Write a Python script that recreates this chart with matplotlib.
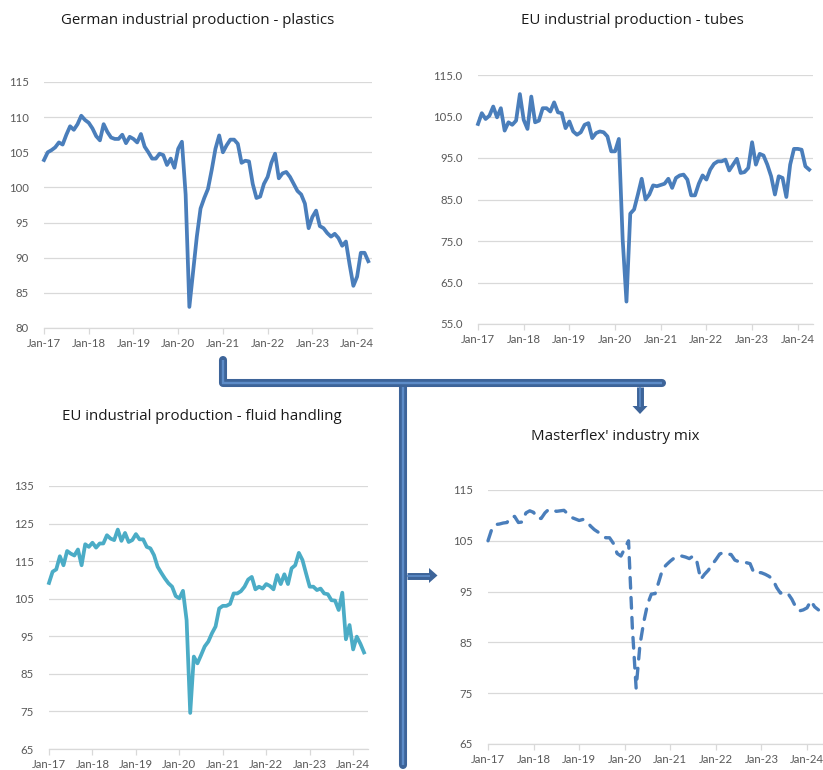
import numpy as np
import matplotlib
matplotlib.use('Agg')
import matplotlib.pyplot as plt
from matplotlib.patches import Polygon

plt.rcParams['font.family'] = ['Lato', 'DejaVu Sans']

W, H = 823, 770

# monthly index values, Jan-17 .. Apr-24
plastics = [103.9, 105.0, 105.3, 105.7, 106.4, 106.1, 107.5, 108.7, 108.2, 109.0, 110.2, 109.6,
            109.2, 108.4, 107.3, 106.7, 109.0, 107.9, 107.1, 106.9, 106.9, 107.5, 106.3, 107.2,
            106.9, 106.4, 107.6, 105.8, 105.0, 104.1, 104.1, 104.8, 104.6, 103.2, 104.1, 102.8,
            105.5, 106.5, 99.0, 83.0, 88.0, 93.0, 97.0, 98.5, 99.8, 102.5, 105.5, 107.4,
            105.0, 106.0, 106.8, 106.8, 106.2, 103.5, 103.8, 103.7, 100.5, 98.5, 98.7, 100.5,
            101.5, 103.5, 104.8, 101.3, 102.0, 102.2, 101.5, 100.5, 99.5, 99.0, 97.7, 94.2,
            95.8, 96.7, 94.5, 94.2, 93.5, 93.0, 93.4, 92.8, 91.7, 92.3, 89.0, 86.0,
            87.3, 90.7, 90.7, 89.5]

tubes = [103.2, 105.8, 104.4, 105.2, 107.4, 104.8, 107.0, 101.6, 103.6, 103.0, 104.0, 110.4,
         104.2, 102.0, 109.8, 103.6, 104.0, 107.0, 107.0, 106.2, 108.4, 106.0, 105.8, 102.2,
         103.8, 101.4, 100.6, 101.2, 103.0, 103.4, 99.8, 101.0, 101.4, 101.2, 100.2, 96.6,
         96.6, 99.6, 75.4, 60.4, 81.6, 82.6, 86.2, 90.0, 85.0, 86.2, 88.4, 88.2,
         88.5, 88.8, 90.0, 87.8, 90.2, 90.8, 91.0, 89.8, 86.0, 86.0, 88.8, 90.8,
         89.8, 92.2, 93.6, 94.2, 94.2, 94.6, 92.0, 93.4, 94.8, 91.4, 91.6, 92.6,
         98.8, 93.4, 96.0, 95.6, 93.4, 90.6, 86.2, 90.6, 90.2, 85.6, 93.4, 97.2,
         97.2, 97.0, 93.0, 92.2]

fluid = [109.2, 112.2, 112.8, 116.3, 113.9, 117.7, 117.0, 116.5, 118.1, 113.9, 119.5, 118.8,
         119.9, 118.6, 119.7, 119.7, 121.9, 121.0, 120.6, 123.4, 120.4, 122.5, 120.1, 120.6,
         122.2, 120.8, 120.8, 118.8, 118.4, 116.6, 113.5, 111.9, 110.4, 109.1, 108.2, 105.7,
         105.1, 107.1, 99.3, 74.6, 89.6, 87.8, 90.0, 92.3, 93.6, 95.8, 97.6, 102.4,
         103.1, 103.1, 103.6, 106.4, 106.4, 107.0, 108.2, 110.1, 110.8, 107.5, 108.2, 107.7,
         108.9, 108.4, 107.5, 111.3, 108.9, 111.5, 108.9, 113.1, 113.9, 117.2, 115.3, 111.7,
         108.2, 108.2, 107.3, 107.7, 106.4, 106.2, 104.6, 104.5, 102.0, 106.6, 94.2, 98.0,
         91.5, 94.9, 93.0, 90.7]

mix = [105.0, 107.3, 108.2, 108.3, 108.5, 108.6, 109.7, 109.8, 108.6, 108.7, 110.5, 110.9,
       110.6, 109.4, 109.4, 110.5, 111.2, 111.1, 110.8, 110.9, 111.0, 110.3, 109.6, 109.3,
       109.0, 109.2, 108.8, 107.9, 107.2, 106.7, 106.2, 105.6, 105.6, 104.5, 102.5, 102.0,
       103.5, 105.0, 88.0, 76.0, 84.5, 89.0, 92.5, 94.5, 94.6, 97.0, 99.5, 100.3,
       101.0, 101.6, 102.0, 102.0, 101.8, 101.5, 102.0, 100.9, 97.4, 98.4, 99.2, 100.3,
       101.3, 102.4, 102.7, 102.4, 102.3, 101.2, 100.9, 100.8, 100.7, 100.5, 98.7, 98.8,
       98.7, 98.4, 98.0, 97.4, 95.8, 94.7, 94.9, 94.6, 93.5, 92.0, 91.2, 91.4,
       91.8, 93.2, 92.0, 91.4]

months = np.arange(len(plastics))
year_ticks = np.arange(0, 85, 12)
year_labels = ['Jan-17', 'Jan-18', 'Jan-19', 'Jan-20', 'Jan-21', 'Jan-22', 'Jan-23', 'Jan-24']

GRID = '#d9d9d9'
TXT = '#595959'


def panel(left, right, top, bottom, xmax, series, yticks, fmt, color, title, tx, ty, dashed=False):
    ax = fig.add_axes([left / W, 1 - bottom / H, (right - left) / W, (bottom - top) / H])
    if dashed:
        ax.plot(months, series, color=color, lw=2.4, linestyle=(0, (3.2, 2.8)),
                dash_capstyle='round', clip_on=False)
    else:
        ax.plot(months, series, color=color, lw=2.7, solid_joinstyle='round', clip_on=False)
    ax.set_xlim(0, xmax)
    ax.set_ylim(yticks[0], yticks[-1])
    ax.set_yticks(yticks)
    ax.set_yticklabels([fmt % v for v in yticks])
    ax.set_xticks(year_ticks)
    ax.set_xticklabels(year_labels)
    ax.grid(axis='y', color=GRID, lw=0.9)
    ax.set_axisbelow(True)
    for s in ['top', 'right', 'left']:
        ax.spines[s].set_visible(False)
    ax.spines['bottom'].set_color(GRID)
    ax.spines['bottom'].set_linewidth(0.9)
    ax.tick_params(axis='x', length=4, color=GRID, width=0.9, labelsize=8.2, labelcolor=TXT, pad=3)
    ax.tick_params(axis='y', length=0, labelsize=8.2, labelcolor=TXT, pad=11)
    fig.text(tx / W, 1 - ty / H, title, ha='center', va='center', fontsize=10.8,
             color='#1a1a1a', family=['Open Sans', 'DejaVu Sans'])
    return ax


fig = plt.figure(figsize=(W / 100, H / 100), dpi=100)

panel(44, 372, 82, 328, 88.0, plastics, [80, 85, 90, 95, 100, 105, 110, 115], '%d',
      '#4a7ebb', 'German industrial production - plastics', 198, 20)
panel(478, 813, 75, 324, 88.0, tubes, [55, 65, 75, 85, 95, 105, 115], '%.1f',
      '#4a7ebb', 'EU industrial production - tubes', 632, 20)
panel(49, 368, 486, 749, 88.1, fluid, [65, 75, 85, 95, 105, 115, 125, 135], '%d',
      '#4bacc6', 'EU industrial production - fluid handling', 202, 417)
panel(488, 823, 490, 744, 88.2, mix, [65, 75, 85, 95, 105, 115], '%d',
      '#4a7ebb', "Masterflex' industry mix", 615, 437, dashed=True)

# connector arrows drawn in pixel space
ov = fig.add_axes([0, 0, 1, 1], zorder=5)
ov.set_xlim(0, W)
ov.set_ylim(H, 0)
ov.axis('off')
ov.patch.set_alpha(0)

DARK = '#3d6499'
LIGHT = '#5d8cc8'


def bar(xs, ys, w=5.8):
    ov.plot(xs, ys, color=DARK, lw=w, solid_capstyle='round', solid_joinstyle='round')
    ov.plot(xs, ys, color=LIGHT, lw=w * 0.3, solid_capstyle='butt', solid_joinstyle='miter')


bar([403, 403], [384, 765])
bar([223, 223, 662], [360, 383, 383])

# down arrow
ov.plot([640, 640], [387, 407], color=DARK, lw=5.0, solid_capstyle='butt')
ov.plot([640, 640], [387, 407], color=LIGHT, lw=1.2, solid_capstyle='butt')
ov.add_patch(Polygon([[632.5, 406], [647.5, 406], [640, 414]], closed=True, color=DARK, lw=0))
# right arrow
ov.plot([407, 430], [575.5, 575.5], color=DARK, lw=5.0, solid_capstyle='butt')
ov.plot([407, 430], [575.5, 575.5], color=LIGHT, lw=1.2, solid_capstyle='butt')
ov.add_patch(Polygon([[429, 568], [429, 583], [437.5, 575.5]], closed=True, color=DARK, lw=0))

fig.savefig('out.png', dpi=100)
